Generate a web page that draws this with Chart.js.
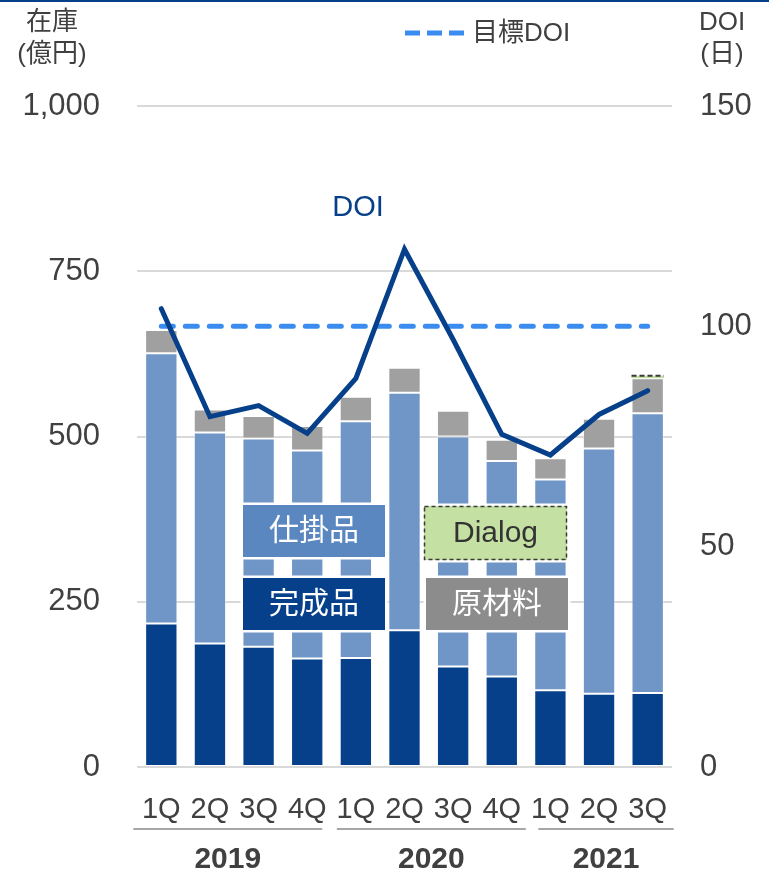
<!DOCTYPE html>
<html>
<head>
<meta charset="utf-8">
<script src="https://cdn.jsdelivr.net/npm/chart.js@4/dist/chart.umd.min.js"></script>
<style>
  html, body { margin: 0; padding: 0; background: #fff; }
  #wrap { width: 769px; height: 874px; }
</style>
</head>
<body>
<div id="wrap"><canvas id="chart" width="769" height="874"></canvas></div>
<script>
// 四半期ラベル
const quarters = ['1Q', '2Q', '3Q', '4Q', '1Q', '2Q', '3Q', '4Q', '1Q', '2Q', '3Q'];
const years = ['2019', '2020', '2021'];
const yearFirst = [0, 4, 8];
const yearLast = [3, 7, 10];

// 在庫 (億円)
const finished = [217, 187, 182, 164, 165, 207, 152, 137, 116, 111, 112];   // 完成品
const wip      = [409, 319, 315, 315, 358, 359, 348, 326, 319, 371, 423];   // 仕掛品
const raw      = [35, 35, 34, 37, 37, 38, 39, 32, 32, 45, 53];              // 原材料
const dialog   = [0, 0, 0, 0, 0, 0, 0, 0, 0, 0, 4];                         // Dialog

// DOI (日)
const doi       = [104, 79.5, 82, 75.7, 88.2, 117.5, 97, 75.5, 70.8, 80, 85.4];
const targetDoi = [100, 100, 100, 100, 100, 100, 100, 100, 100, 100, 100];

const leftTicks = [0, 250, 500, 750, 1000];
const rightTicks = [0, 50, 100, 150];

const FONT = "'Liberation Sans', Arial, 'Noto Sans CJK JP', sans-serif";
const NAVY = '#06408a';
const TEXT = '#404040';

// 注釈（軸タイトル・凡例・ラベルボックス・年）
const overlay = {
  id: 'overlay',
  afterDatasetsDraw(chart) {
    const ctx = chart.ctx;
    ctx.save();

    // Dialog の破線枠
    const m = chart.getDatasetMeta(3).data[10];
    if (m) {
      ctx.setLineDash([5, 3]);
      ctx.strokeStyle = '#3a3a3a';
      ctx.lineWidth = 2;
      ctx.beginPath();
      ctx.moveTo(m.x - m.width / 2, m.y);
      ctx.lineTo(m.x + m.width / 2, m.y);
      ctx.stroke();
      ctx.setLineDash([]);
    }

    // ラベルボックス
    const boxes = [
      { t: '仕掛品', x: 243, y: 505, w: 142, h: 52, fill: '#5b87c1', color: '#fff' },
      { t: '完成品', x: 243, y: 578, w: 142, h: 52, fill: NAVY, color: '#fff' },
      { t: 'Dialog', x: 424, y: 506, w: 143, h: 54, fill: '#c5e0a3', color: '#333', dash: true },
      { t: '原材料', x: 426, y: 578, w: 142, h: 52, fill: '#8c8c8c', color: '#fff' }
    ];
    boxes.forEach(b => {
      ctx.strokeStyle = '#fff';
      ctx.lineWidth = 5;
      ctx.strokeRect(b.x, b.y, b.w, b.h);
      ctx.fillStyle = b.fill;
      ctx.fillRect(b.x, b.y, b.w, b.h);
      if (b.dash) {
        ctx.setLineDash([4, 3]);
        ctx.strokeStyle = '#3a3a3a';
        ctx.lineWidth = 1.5;
        ctx.strokeRect(b.x + 0.5, b.y + 0.5, b.w - 1, b.h - 1);
        ctx.setLineDash([]);
      }
      ctx.fillStyle = b.color;
      ctx.font = '30px ' + FONT;
      ctx.textAlign = 'center';
      ctx.textBaseline = 'middle';
      ctx.fillText(b.t, b.x + b.w / 2, b.y + b.h / 2 + 1);
    });
    ctx.restore();
  },
  afterDraw(chart) {
    const ctx = chart.ctx;
    const xs = chart.scales.x;
    ctx.save();

    // 上端の線
    ctx.fillStyle = NAVY;
    ctx.fillRect(0, 0, chart.width, 2);

    // 軸タイトル
    ctx.fillStyle = TEXT;
    ctx.font = '26px ' + FONT;
    ctx.textAlign = 'center';
    ctx.textBaseline = 'middle';
    ctx.fillText('在庫', 52, 23);
    ctx.fillText('(億円)', 52, 55);
    ctx.fillText('DOI', 722, 23);
    ctx.fillText('(日)', 722, 55);

    // 凡例
    ctx.strokeStyle = '#3b8cf0';
    ctx.lineWidth = 5;
    ctx.setLineDash([15, 7]);
    ctx.beginPath();
    ctx.moveTo(405, 33);
    ctx.lineTo(466, 33);
    ctx.stroke();
    ctx.setLineDash([]);
    ctx.fillStyle = TEXT;
    ctx.textAlign = 'left';
    ctx.fillText('目標DOI', 472, 34);

    // DOI ラベル
    ctx.fillStyle = NAVY;
    ctx.font = '29px ' + FONT;
    ctx.textAlign = 'center';
    ctx.fillText('DOI', 358, 208);

    // 年の下線とラベル
    const startShift = [-28, -19, -12];
    const endShift = [15, 24, 26];
    years.forEach((yr, i) => {
      const x0 = xs.getPixelForValue(yearFirst[i]) + startShift[i];
      const x1 = xs.getPixelForValue(yearLast[i]) + endShift[i];
      ctx.strokeStyle = '#a6a6a6';
      ctx.lineWidth = 2;
      ctx.beginPath();
      ctx.moveTo(x0, 829);
      ctx.lineTo(x1, 829);
      ctx.stroke();
      ctx.fillStyle = TEXT;
      ctx.font = 'bold 30px ' + FONT;
      ctx.textAlign = 'center';
      ctx.fillText(yr, (x0 + x1) / 2, 860);
    });
    ctx.restore();
  }
};

const barBase = {
  type: 'bar',
  yAxisID: 'y',
  stack: 'inv',
  order: 2,
  barPercentage: 0.665,
  categoryPercentage: 1,
  borderWidth: 1,
  borderColor: 'rgba(255,255,255,0.45)',
  borderSkipped: false
};

new Chart(document.getElementById('chart'), {
  data: {
    labels: quarters,
    datasets: [
      Object.assign({}, barBase, { label: '完成品', data: finished, backgroundColor: NAVY }),
      Object.assign({}, barBase, { label: '仕掛品', data: wip, backgroundColor: '#7096c7' }),
      Object.assign({}, barBase, { label: '原材料', data: raw, backgroundColor: '#a0a0a0' }),
      Object.assign({}, barBase, { label: 'Dialog', data: dialog, backgroundColor: '#c5e0a3', borderWidth: 0 }),
      {
        type: 'line', label: 'DOI', data: doi, yAxisID: 'y2', order: 0,
        borderColor: NAVY, borderWidth: 5, pointRadius: 0, tension: 0,
        borderCapStyle: 'round', borderJoinStyle: 'miter'
      },
      {
        type: 'line', label: '目標DOI', data: targetDoi, yAxisID: 'y2', order: 1,
        borderColor: '#3b8cf0', borderWidth: 5, pointRadius: 0, tension: 0,
        borderDash: [12, 12], borderCapStyle: 'round'
      }
    ]
  },
  options: {
    responsive: false,
    animation: false,
    devicePixelRatio: 1,
    layout: { padding: { top: 106, left: 0, right: 0, bottom: 0 } },
    plugins: { legend: { display: false }, tooltip: { enabled: false } },
    scales: {
      x: {
        stacked: true,
        offset: true,
        grid: { display: false },
        border: { display: false },
        ticks: {
          autoSkip: false, maxRotation: 0, padding: 18,
          color: TEXT, font: { size: 29, family: FONT }
        },
        afterFit(s) { s.height = 107; }
      },
      y: {
        stacked: true,
        position: 'left',
        min: 0, max: 1000,
        afterBuildTicks(s) { s.ticks = leftTicks.map(v => ({ value: v })); },
        grid: { color: '#d9d9d9', lineWidth: 2, drawTicks: false },
        border: { display: false },
        ticks: {
          padding: 37, color: TEXT, font: { size: 31, family: FONT },
          callback: v => v.toLocaleString('en-US')
        },
        afterFit(s) { s.width = 137; }
      },
      y2: {
        position: 'right',
        min: 0, max: 150,
        afterBuildTicks(s) { s.ticks = rightTicks.map(v => ({ value: v })); },
        grid: { display: false, drawTicks: false },
        border: { display: false },
        ticks: { padding: 28, color: TEXT, font: { size: 31, family: FONT } },
        afterFit(s) { s.width = 97; }
      }
    }
  },
  plugins: [overlay]
});
</script>
</body>
</html>
